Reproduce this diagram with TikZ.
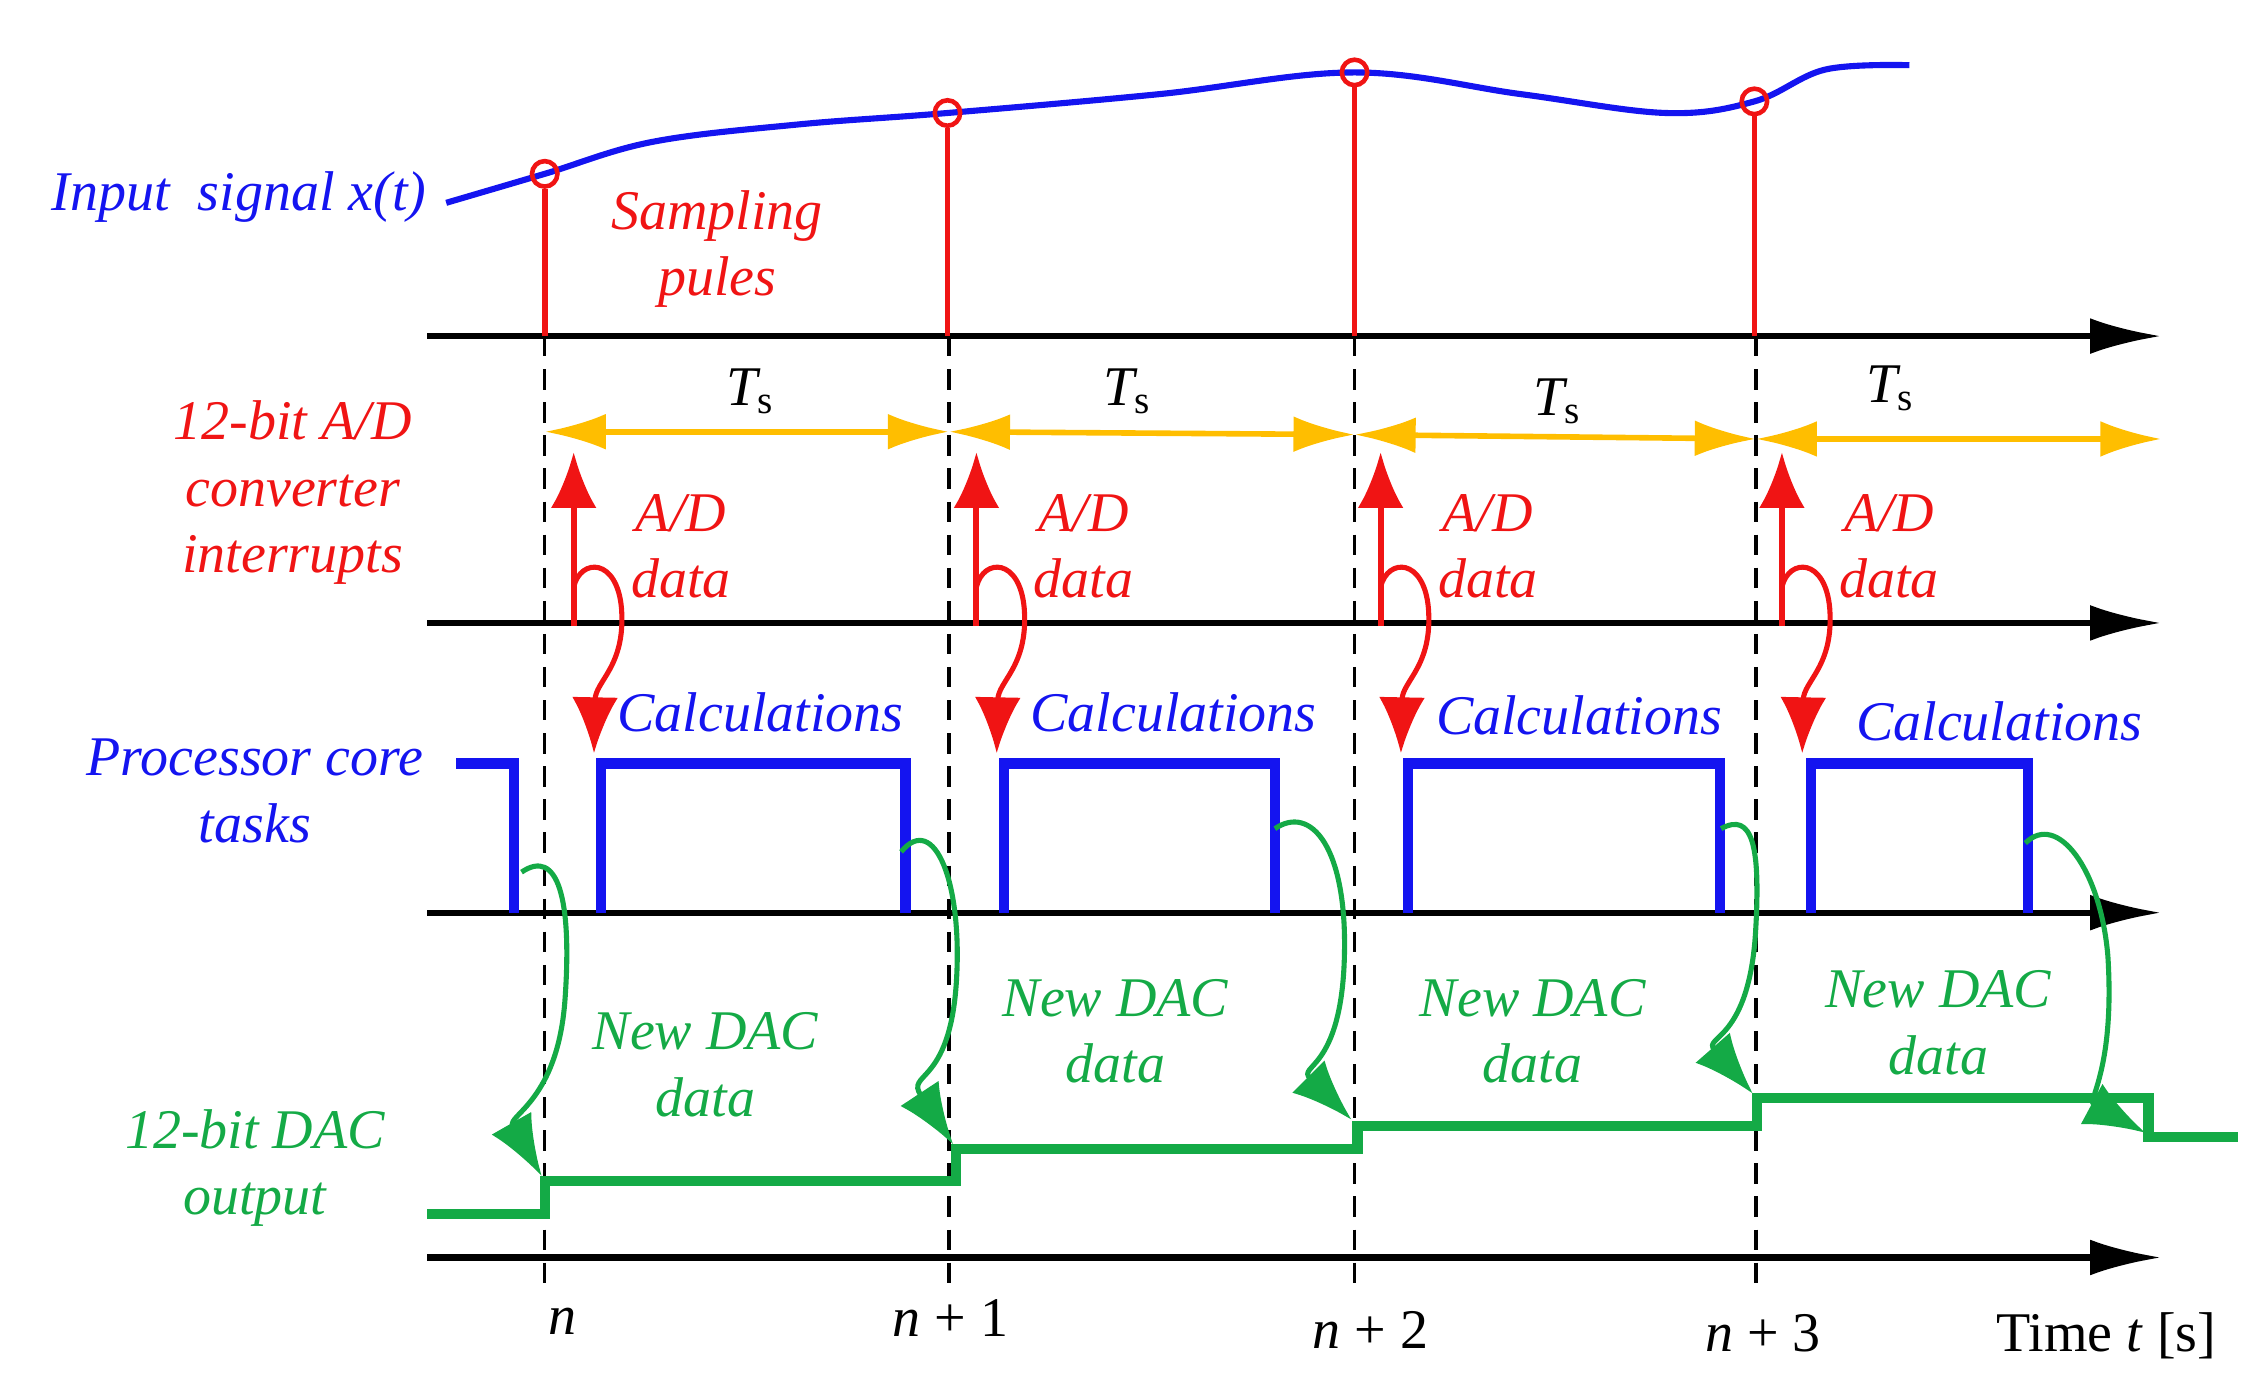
\documentclass[tikz,border=0pt]{standalone}
\usepackage{fontspec}
\setmainfont{Liberation Serif}
\usetikzlibrary{arrows.meta}
\definecolor{sred}{RGB}{240,20,20}
\definecolor{sblue}{RGB}{20,20,240}
\definecolor{sgreen}{RGB}{20,170,70}
\definecolor{sorange}{RGB}{255,190,0}
\begin{document}
\begin{tikzpicture}[x=0.02cm,y=-0.02cm,
  lbl/.style={font=\fontsize{22}{26}\selectfont\itshape,align=center},
  axis/.style={line width=2.4pt,-{Latex[length=28pt,width=14pt]}},
  vdash/.style={line width=1.3pt,dash pattern=on 8pt off 5pt},
  pulse/.style={sred,line width=2.2pt},
  ts/.style={sorange,line width=2.2pt,{Latex[length=24pt,width=14pt]}-{Latex[length=24pt,width=14pt]}},
  adv/.style={sred,line width=2.4pt,-{Latex[length=22pt,width=18pt]}},
  grn/.style={sgreen,line width=2pt,-{Latex[length=24pt,width=18pt]}}]
\useasboundingbox (0,0) rectangle (1560,963);
% axes
\foreach \y/\n in {232/a1,430/a2,630/a3,868/a4}{
  \coordinate (\n s) at (295,\y); \coordinate (\n e) at (1492,\y);
  \draw[axis] (\n s) -- (\n e);}
% dashed
\foreach \x/\n in {376/d0,655/d1,935/d2,1212/d3}{
  \coordinate (\n t) at (\x,232); \coordinate (\n b) at (\x,890);
  \draw[vdash] (\n t) -- (\n b);}
% input signal
\draw[sblue,line width=2.4pt] plot[smooth,tension=0.6] coordinates{(308,140) (376,120) (450,98) (550,86) (654,78) (800,65) (935,50) (1050,65) (1150,78) (1211,70) (1260,48) (1318,45)};
\foreach \x/\y/\n in {376/120/p0,654/78/p1,935/50/p2,1211/70/p3}{
  \node[circle,draw=sred,line width=1.8pt,inner sep=0pt,minimum size=10pt] (\n) at (\x,\y) {};
  \coordinate (\n b) at (\x,232);
  \draw[pulse] (\n b) -- (\n.south);}
\node[lbl,sblue] (inp) at (165,136) {Input\ \ signal \textit{x}(\textit{t})};
\node[lbl,sred] (samp) at (495,172) {Sampling\\pules};
% Ts
\coordinate (t0) at (376,298); \coordinate (t1) at (655,298); \coordinate (t2) at (935,300);
\coordinate (t3) at (1212,303); \coordinate (t4) at (1492,303);
\draw[ts] (t0)--(t1); \draw[ts] (t1)--(t2); \draw[ts] (t2)--(t3); \draw[ts] (t3)--(t4);
\foreach \x/\y/\n in {518/270/ts0,778/270/ts1,1075/277/ts2,1305/268/ts3}
  \node[lbl] (\n) at (\x,\y) {\textit{T}\textsubscript{\upshape s}};
% left labels
\node[lbl,sred] (adc) at (202,340) {12-bit A/D\\converter\\interrupts};
\node[lbl,sblue] (proc) at (176,546) {Processor core\\tasks};
\node[lbl,sgreen] (dac) at (176,806) {12-bit DAC\\output};
% A/D arrows
\foreach \x/\k in {396/0,674/1,953/2,1230/3}{
  \coordinate (ab\k) at (\x,432); \coordinate (at\k) at (\x,312);
  \draw[adv] (ab\k) -- (at\k);
  \coordinate (cs\k) at (\x,405); \coordinate (ce\k) at (\x+14,520);
  \draw[adv,line width=2pt] (cs\k) .. controls (\x+5,385) and (\x+30,385) .. (\x+33,420) .. controls (\x+36,460) and (\x+15,470) .. (ce\k);
  \node[lbl,sred] (ad\k) at (\x+74,377) {A/D\\data};}
% processor
\draw[sblue,line width=4pt] (315,527) -- (355,527) -- (355,630);
\foreach \a/\b/\k in {415/625/0,693/880/1,972/1187/2,1250/1400/3}{
  \coordinate (ps\k) at (\a,630); \coordinate (pe\k) at (\b,630);
  \draw[sblue,line width=4pt] (ps\k) -- (\a,527) -- (\b,527) -- (pe\k);}
\foreach \x/\y/\k in {525/492/0,810/492/1,1090/494/2,1380/498/3}
  \node[lbl,sblue] (calc\k) at (\x,\y) {Calculations};
% DAC output
\draw[sgreen,line width=4pt] (295,838) -- (376,838) -- (376,815) -- (660,815) -- (660,793) -- (937,793) -- (937,777) -- (1213,777) -- (1213,758) -- (1483,758) -- (1483,785) -- (1545,785);
% green arrows
\coordinate (g0s) at (360,602); \coordinate (g0e) at (374,812);
\draw[grn] (g0s) .. controls (385,585) and (395,620) .. (390,690) .. controls (385,760) and (350,770) .. (g0e);
\coordinate (g1s) at (622,588); \coordinate (g1e) at (658,790);
\draw[grn] (g1s) .. controls (645,560) and (665,610) .. (660,680) .. controls (655,750) and (625,740) .. (g1e);
\coordinate (g2s) at (880,572); \coordinate (g2e) at (933,773);
\draw[grn] (g2s) .. controls (905,555) and (930,585) .. (928,660) .. controls (926,740) and (895,735) .. (g2e);
\coordinate (g3s) at (1188,572); \coordinate (g3e) at (1210,755);
\draw[grn] (g3s) .. controls (1210,560) and (1215,585) .. (1212,640) .. controls (1208,720) and (1175,715) .. (g3e);
\coordinate (g4s) at (1398,582); \coordinate (g4e) at (1481,782);
\draw[grn] (g4s) .. controls (1420,560) and (1450,600) .. (1455,660) .. controls (1460,740) and (1440,760) .. (g4e);
\foreach \x/\y/\k in {487/735/0,770/712/1,1058/712/2,1338/706/3}
  \node[lbl,sgreen] (nd\k) at (\x,\y) {New DAC\\data};
% bottom labels
\node[lbl] (n0) at (388,912) {n};
\node[lbl] (n1) at (656,910) {n \upshape+ 1};
\node[lbl] (n2) at (946,918) {n \upshape+ 2};
\node[lbl] (n3) at (1217,920) {n \upshape+ 3};
\node[lbl,font=\fontsize{22}{26}\selectfont] (time) at (1454,922) {Time \textit{t} [s]};
\end{tikzpicture}
\end{document}
